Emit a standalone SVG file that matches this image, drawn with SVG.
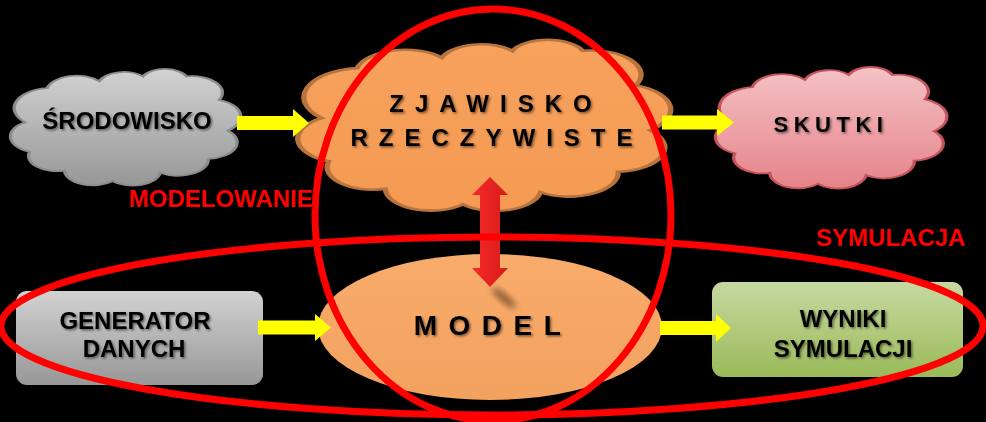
<svg xmlns="http://www.w3.org/2000/svg" width="986" height="422" viewBox="0 0 986 422">
  <style>
    .t { font-family: "Liberation Sans", Arial, sans-serif; font-weight: bold; fill: #000; text-anchor: middle; }
    .lbl { font-family: "Liberation Sans", Arial, sans-serif; font-weight: bold; fill: #ff0000; font-size: 24px; text-anchor: middle; }
    .cloud { vector-effect: non-scaling-stroke; stroke-width: 1.5; }
    .ring { fill: none; stroke: #ff0000; stroke-width: 7; }
    .yarrow { fill: #ffff00; }
  </style>
  <defs>
    <path id="cloudShape" d="M4,45 A17,17 0 0 1 14,16 A14,14 0 0 1 38,10 A12,12 0 0 1 58,6 A11,11 0 0 1 78,6 A14,14 0 0 1 93,26 A15,15 0 0 1 97,52 A14,14 0 0 1 88,76 A14,14 0 0 1 66,88 A13,13 0 0 1 44,95 A13,13 0 0 1 22,86 A13,13 0 0 1 6,70 A14,14 0 0 1 4,45 Z"/>
    <linearGradient id="gGray" x1="0" y1="0" x2="0" y2="1">
      <stop offset="0" stop-color="#d2d2d2"/>
      <stop offset="1" stop-color="#979797"/>
    </linearGradient>
    <linearGradient id="gPink" x1="0" y1="0" x2="0" y2="1">
      <stop offset="0" stop-color="#f4c2c5"/>
      <stop offset="1" stop-color="#e5838a"/>
    </linearGradient>
    <linearGradient id="gOrange" x1="0" y1="0" x2="0" y2="1">
      <stop offset="0" stop-color="#f7a25e"/>
      <stop offset="1" stop-color="#f49a52"/>
    </linearGradient>
    <linearGradient id="gModel" x1="0" y1="0" x2="0" y2="1">
      <stop offset="0" stop-color="#f8ac6c"/>
      <stop offset="1" stop-color="#f3a15e"/>
    </linearGradient>
    <linearGradient id="gGreen" x1="0" y1="0" x2="0" y2="1">
      <stop offset="0" stop-color="#c6d9a0"/>
      <stop offset="1" stop-color="#9bba5a"/>
    </linearGradient>
    <linearGradient id="gRed" x1="0" y1="0" x2="1" y2="0">
      <stop offset="0" stop-color="#f52a2a"/>
      <stop offset="1" stop-color="#d81a1a"/>
    </linearGradient>
    <filter id="ts" x="-10%" y="-30%" width="120%" height="160%">
      <feDropShadow dx="1.5" dy="1.5" stdDeviation="1.2" flood-color="#000" flood-opacity="0.5"/>
    </filter>
    <filter id="blur" x="-50%" y="-50%" width="200%" height="200%">
      <feGaussianBlur stdDeviation="3"/>
    </filter>
  </defs>

  <rect x="0" y="0" width="986" height="422" fill="#000"/>

  <g id="srodowisko">
    <use href="#cloudShape" class="cloud" transform="translate(16.5,69.4) scale(2.18,1.176)" fill="url(#gGray)" stroke="#8c8c8c"/>
    <text class="t" x="127" y="129" font-size="24" filter="url(#ts)">ŚRODOWISKO</text>
  </g>

  <g id="zjawisko">
    <use href="#cloudShape" class="cloud" transform="translate(307.6,40.5) scale(3.53,1.725)" fill="url(#gOrange)" stroke="#b8743c"/>
    <text class="t" x="496" y="112" font-size="24" letter-spacing="11" filter="url(#ts)">ZJAWISKO</text>
    <text class="t" x="497" y="146" font-size="24" letter-spacing="11" filter="url(#ts)">RZECZYWISTE</text>
  </g>

  <g id="skutki">
    <use href="#cloudShape" class="cloud" transform="translate(721.6,67.5) scale(2.19,1.225)" fill="url(#gPink)" stroke="#c4545e"/>
    <text class="t" x="831" y="132" font-size="22" letter-spacing="5.5" filter="url(#ts)">SKUTKI</text>
  </g>

  <g id="model">
    <ellipse cx="490" cy="327" rx="172" ry="73" fill="url(#gModel)"/>
    <text class="t" x="493" y="335" font-size="28" letter-spacing="11.5" filter="url(#ts)">MODEL</text>
  </g>

  <g id="generator">
    <rect x="16" y="291" width="247" height="94" rx="11" fill="url(#gGray)"/>
    <text class="t" x="135" y="329" font-size="24" filter="url(#ts)">GENERATOR</text>
    <text class="t" x="134" y="357" font-size="24" filter="url(#ts)">DANYCH</text>
  </g>

  <g id="wyniki">
    <rect x="712" y="282" width="251" height="95" rx="11" fill="url(#gGreen)"/>
    <text class="t" x="843" y="327" font-size="24" filter="url(#ts)">WYNIKI</text>
    <text class="t" x="843" y="357" font-size="24" filter="url(#ts)">SYMULACJI</text>
  </g>

  <g id="connectors">
    <polygon class="yarrow" points="237,116 293,116 293,109 309,123 293,137 293,130 237,130"/>
    <polygon class="yarrow" points="662,115.5 717,115.5 717,109 734,122.5 717,136 717,129.5 662,129.5"/>
    <polygon class="yarrow" points="258,320.5 315,320.5 315,314 331,327.5 315,341 315,334.5 258,334.5"/>
    <polygon class="yarrow" points="660,321 716,321 716,314 731,328 716,342 716,335 660,335"/>
    <ellipse cx="504" cy="298" rx="15" ry="4" fill="#5a3a22" opacity="0.7" transform="rotate(40 504 298)" filter="url(#blur)"/>
    <polygon fill="url(#gRed)" points="490,177 508,195 500,195 500,268 508,268 490,287 472,268 480,268 480,195 472,195"/>
  </g>

  <g id="modelowanie">
    <ellipse class="ring" cx="493" cy="215" rx="178" ry="206"/>
    <text class="lbl" x="221" y="207" filter="url(#ts)">MODELOWANIE</text>
  </g>

  <g id="symulacja">
    <ellipse class="ring" cx="492" cy="326" rx="491" ry="89"/>
    <text class="lbl" x="891" y="246" filter="url(#ts)">SYMULACJA</text>
  </g>
</svg>
